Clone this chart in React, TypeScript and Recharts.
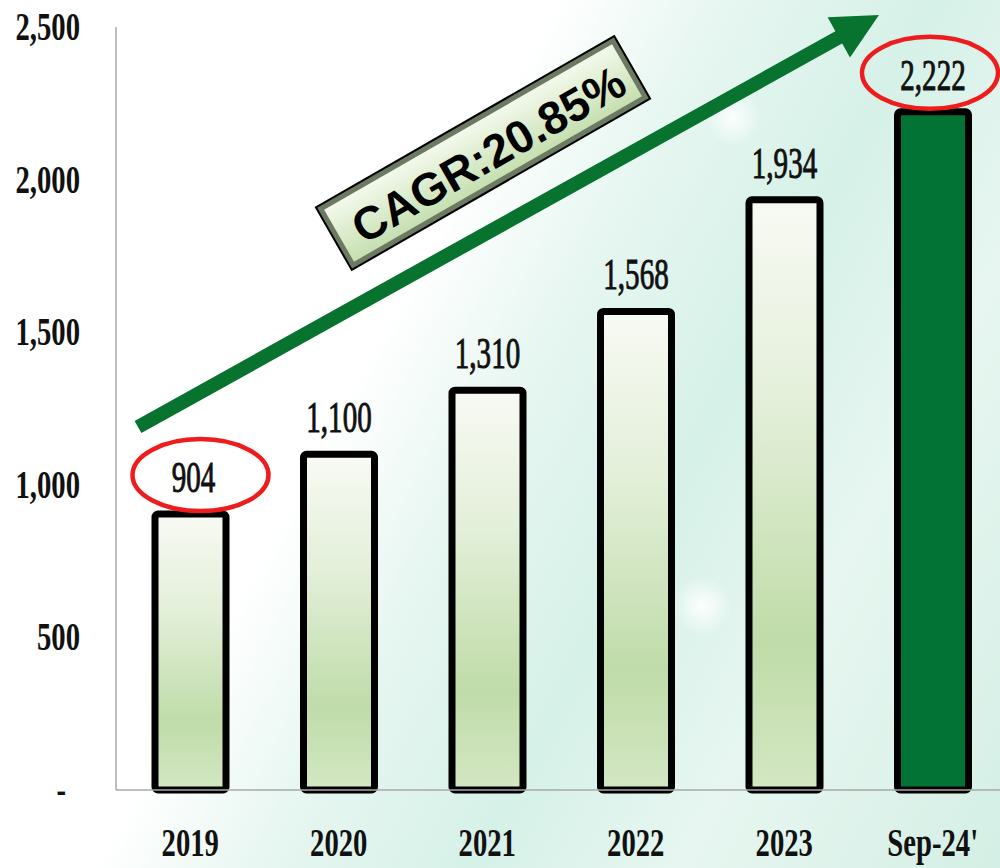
import React from "react";
import { Bar, BarChart, Cell, LabelList, XAxis, YAxis } from "recharts";

const categories = ["2019", "2020", "2021", "2022", "2023", "Sep-24'"];
const values = [904, 1100, 1310, 1568, 1934, 2222];
const circled = [true, false, false, false, false, true];
const yTicks = [0, 500, 1000, 1500, 2000, 2500];
const cagrText = "CAGR:20.85%";

const data = categories.map((name, i) => ({ name, value: values[i], circled: circled[i] }));

const SERIF = "'Liberation Serif', 'Times New Roman', serif";
const fmt = (v: number) => (v === 0 ? "-" : v.toLocaleString("en-US"));

function YTick(props: any) {
  const { x, y, payload } = props;
  const isZero = payload.value === 0;
  return (
    <text
      transform={`translate(${x - (isZero ? 50 : 36)},${y + 13}) scale(0.7,1)`}
      textAnchor="end"
      fontFamily={SERIF}
      fontWeight="bold"
      fontSize={41}
      fill="#111"
    >
      {fmt(payload.value)}
    </text>
  );
}

function XTick(props: any) {
  const { x, y, payload } = props;
  return (
    <text
      transform={`translate(${x},${y + 66}) scale(0.7,1)`}
      textAnchor="middle"
      fontFamily={SERIF}
      fontWeight="bold"
      fontSize={41}
      fill="#111"
    >
      {payload.value}
    </text>
  );
}

function ValueLabel(props: any) {
  const { x, y, width, value, index } = props;
  const cx = x + width / 2;
  const base = y - 22;
  return (
    <g>
      {circled[index] && (
        <ellipse
          cx={cx + (index === 0 ? 10 : -3)}
          cy={base - 17}
          rx={68}
          ry={36}
          fill="none"
          stroke="#ee1c1c"
          strokeWidth={4.5}
        />
      )}
      <text
        transform={`translate(${cx + (index === 0 ? 3 : 0)},${base}) scale(0.66,1)`}
        textAnchor="middle"
        fontFamily={SERIF}
        fontSize={44}
        fill="#111"
        stroke="#111"
        strokeWidth={1}
      >
        {fmt(value)}
      </text>
    </g>
  );
}

// trend arrow + CAGR badge (annotation overlay)
function Overlay() {
  const sx = 138, sy = 427, tx = 879, ty = 15;
  const len = Math.hypot(tx - sx, ty - sy);
  const ux = (tx - sx) / len, uy = (ty - sy) / len;
  const hl = 46, hw = 23;
  const bx = tx - ux * hl, by = ty - uy * hl;
  const head = `${tx},${ty} ${bx - uy * hw},${by + ux * hw} ${bx + uy * hw},${by - ux * hw}`;
  const angle = (Math.atan2(ty - sy, tx - sx) * 180) / Math.PI;
  return (
    <svg width={1000} height={868} style={{ position: "absolute", left: 0, top: 0, pointerEvents: "none" }}>
      <defs>
        <linearGradient id="badge" x1="0" y1="0" x2="0" y2="1">
          <stop offset="0%" stopColor="#f3f9ec" />
          <stop offset="100%" stopColor="#c6dfb0" />
        </linearGradient>
      </defs>
      <line x1={sx} y1={sy} x2={bx + ux * 2} y2={by + uy * 2} stroke="#08722f" strokeWidth={14} />
      <polygon points={head} fill="#08722f" />
      <g transform={`translate(483,153) rotate(${angle - 0.8})`}>
        <rect x={-172} y={-36} width={344} height={72} fill="#6d7a63" stroke="#000" strokeWidth={2} />
        <rect x={-166} y={-30} width={332} height={60} fill="url(#badge)" />
        <text
          x={4}
          y={4}
          textAnchor="middle"
          dominantBaseline="central"
          fontFamily="'Liberation Sans', Arial, sans-serif"
          fontWeight="bold"
          fontSize={46}
          fill="#000"
        >
          {cagrText}
        </text>
      </g>
    </svg>
  );
}

export default function App() {
  return (
    <div
      style={{
        position: "absolute",
        left: 0,
        top: 0,
        width: 1000,
        height: 868,
        overflow: "hidden",
        background:
          "radial-gradient(circle at 702px 606px, rgba(255,255,255,0.95) 0, rgba(255,255,255,0) 30px), radial-gradient(circle at 733px 118px, rgba(255,255,255,0.9) 0, rgba(255,255,255,0) 28px), linear-gradient(118deg, #ffffff 0%, #ffffff 38%, #e6f6f0 50%, #d6f1e8 64%, #e7f6f0 78%, #d4efe5 100%)",
      }}
    >
      <BarChart width={1010} height={868} data={data} margin={{ top: 27, right: 3, bottom: 0, left: 0 }}>
        <defs>
          <linearGradient id="barFill" x1="0" y1="0" x2="0" y2="1">
            <stop offset="0%" stopColor="#f8faf4" />
            <stop offset="35%" stopColor="#e3efd9" />
            <stop offset="75%" stopColor="#c0dca9" />
            <stop offset="100%" stopColor="#d3e7c3" />
          </linearGradient>
        </defs>
        <XAxis
          dataKey="name"
          height={78}
          tickLine={false}
          tickSize={0}
          tickMargin={0}
          axisLine={{ stroke: "#a8a8a8", strokeWidth: 1.5 }}
          tick={<XTick />}
          interval={0}
        />
        <YAxis
          width={116}
          domain={[0, 2500]}
          ticks={yTicks}
          tickLine={false}
          tickSize={0}
          tickMargin={0}
          axisLine={{ stroke: "#a8a8a8", strokeWidth: 1.5 }}
          tick={<YTick />}
          interval={0}
        />
        <Bar dataKey="value" barSize={71} stroke="#000" strokeWidth={7} radius={3} isAnimationActive={false}>
          {data.map((d, i) => (
            <Cell key={d.name} fill={i === data.length - 1 ? "#037235" : "url(#barFill)"} />
          ))}
          <LabelList dataKey="value" content={<ValueLabel />} />
        </Bar>
      </BarChart>
      <Overlay />
    </div>
  );
}
